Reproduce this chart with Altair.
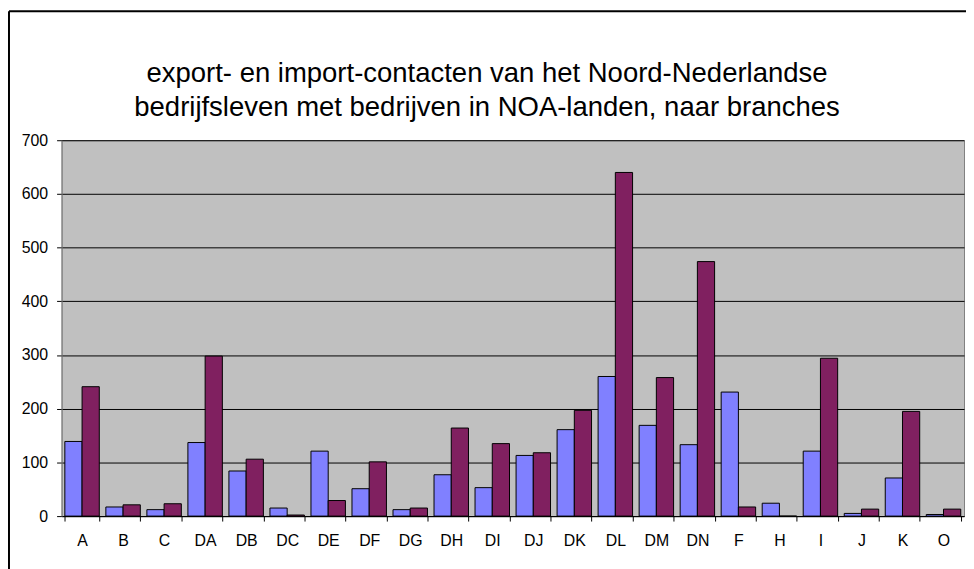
import altair as alt
import pandas as pd

categories = ["A", "B", "C", "DA", "DB", "DC", "DE", "DF", "DG", "DH", "DI",
              "DJ", "DK", "DL", "DM", "DN", "F", "H", "I", "J", "K", "O"]
export_vals = [139, 17, 12, 137, 84, 15, 121, 51, 12, 77, 53,
               113, 161, 260, 169, 133, 231, 24, 121, 5, 71, 3]
import_vals = [241, 21, 23, 298, 106, 2, 29, 101, 15, 164, 135,
               118, 197, 640, 258, 474, 17, 0, 294, 13, 195, 13]
series_names = ["export", "import"]
series_colors = ["#8080FF", "#802060"]
title_lines = ["export- en import-contacten van het Noord-Nederlandse",
               "bedrijfsleven met bedrijven in NOA-landen, naar branches"]

rows = []
for i, c in enumerate(categories):
    rows.append({"branche": c, "reeks": series_names[0], "waarde": export_vals[i]})
    rows.append({"branche": c, "reeks": series_names[1], "waarde": import_vals[i]})
df = pd.DataFrame(rows)

W, H = 910, 379
FONT = "Liberation Sans"

bars = alt.Chart(df).mark_bar(stroke="black", strokeWidth=1).encode(
    x=alt.X("branche:N", sort=categories, title=None,
            scale=alt.Scale(paddingInner=0.16, paddingOuter=0.08),
            axis=alt.Axis(labelAngle=0, labelFont=FONT, labelFontSize=16,
                          labelColor="black", labelPadding=12, tickSize=5,
                          tickColor="black", domainColor="black",
                          tickBand="extent", grid=False)),
    xOffset=alt.XOffset("reeks:N", sort=series_names,
                        scale=alt.Scale(paddingInner=0, paddingOuter=0)),
    y=alt.Y("waarde:Q", title=None,
            scale=alt.Scale(domain=[0, 700], nice=False),
            axis=alt.Axis(values=list(range(0, 701, 100)), labelFont=FONT,
                          labelFontSize=16, labelColor="black", labelPadding=9,
                          tickSize=5, tickColor="black", domainColor="#808080",
                          gridColor="black", gridWidth=1, gridOpacity=1)),
    color=alt.Color("reeks:N", sort=series_names,
                    scale=alt.Scale(domain=series_names, range=series_colors),
                    legend=None),
)

title_df = pd.DataFrame({"t": title_lines, "i": [0, 1]})
title1 = alt.Chart(title_df).transform_filter("datum.i == 0").mark_text(
    font=FONT, fontSize=27.7, color="black", align="center", baseline="middle"
).encode(text="t:N", x=alt.value(W / 2 - 26), y=alt.value(-67))
title2 = alt.Chart(title_df).transform_filter("datum.i == 1").mark_text(
    font=FONT, fontSize=27.7, color="black", align="center", baseline="middle"
).encode(text="t:N", x=alt.value(W / 2 - 26), y=alt.value(-32))

border_df = pd.DataFrame({"k": [0]})
left_border = alt.Chart(border_df).mark_rule(color="black", strokeWidth=2).encode(
    x=alt.value(-53), y=alt.value(-130), y2=alt.value(H + 60))
top_border = alt.Chart(border_df).mark_rule(color="black", strokeWidth=2).encode(
    x=alt.value(-53), x2=alt.value(W + 10), y=alt.value(-130))

chart = alt.layer(bars, title1, title2, left_border, top_border).properties(
    width=W, height=H,
    padding={"left": 54, "top": 131, "right": 2, "bottom": 51},
    autosize=alt.AutoSizeParams(type="none"),
    background="white",
).configure_view(fill="#C0C0C0", stroke="#808080", strokeWidth=1)

chart.save("out.html", embed_options={"renderer": "svg", "actions": False})
